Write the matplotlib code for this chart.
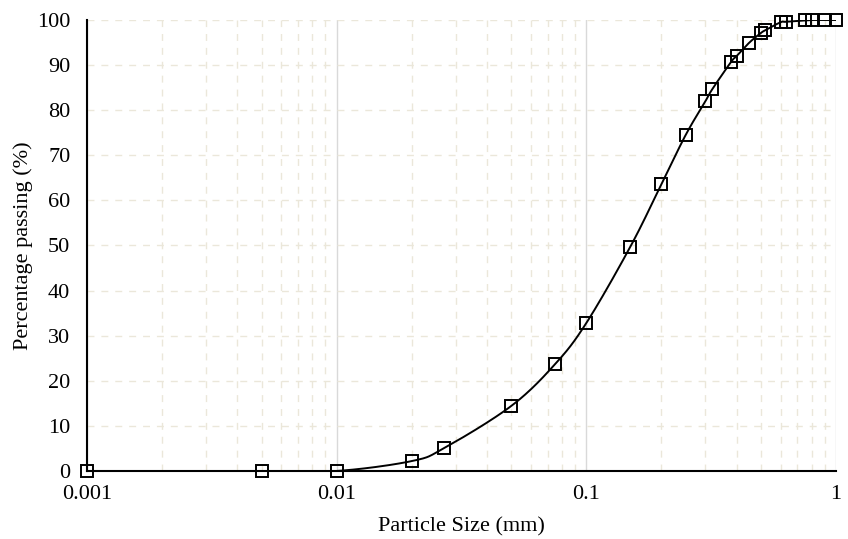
import numpy as np
import matplotlib.pyplot as plt
from matplotlib.ticker import FixedLocator, NullFormatter

# grain size distribution
size_mm = [0.001, 0.005, 0.01, 0.02, 0.027, 0.05, 0.075, 0.1, 0.15, 0.2, 0.25,
           0.3, 0.32, 0.38, 0.4, 0.45, 0.5, 0.52, 0.6, 0.63, 0.75, 0.8, 0.9, 1.0]
passing = [0.0, 0.0, 0.0, 2.2, 5.1, 14.4, 23.7, 32.8, 49.7, 63.6, 74.5,
           82.0, 84.7, 90.7, 92.0, 95.0, 97.1, 97.7, 99.5, 99.6, 99.9, 100.0, 100.0, 100.0]

x_ticks = [0.001, 0.01, 0.1, 1]
x_tick_labels = ["0.001", "0.01", "0.1", "1"]


def smooth_curve(x, y, n=30):
    """Bezier smoothing (like a spreadsheet 'smoothed line') in log-x space."""
    u = np.log10(np.asarray(x)) * 250.0
    v = np.asarray(y) * 4.5
    P = np.column_stack([u, v])
    P = np.vstack([P[0], P, P[-1]])
    out = []
    t = np.linspace(0, 1, n)[:, None]
    for i in range(1, len(P) - 2):
        p0, p3 = P[i], P[i + 1]
        c1 = p0 + (P[i + 1] - P[i - 1]) / 6.0
        c2 = p3 - (P[i + 2] - P[i]) / 6.0
        seg = ((1 - t) ** 3) * p0 + 3 * ((1 - t) ** 2) * t * c1 + 3 * (1 - t) * t ** 2 * c2 + t ** 3 * p3
        out.append(seg)
    out = np.vstack(out)
    return 10 ** (out[:, 0] / 250.0), out[:, 1] / 4.5


plt.rcParams['font.family'] = ['Liberation Serif', 'DejaVu Serif']

fig = plt.figure(figsize=(8.48, 5.39), dpi=100)
ax = fig.add_axes([0.1026, 0.1262, 0.8832, 0.8367])

sx, sy = smooth_curve(size_mm, passing)
ax.plot(sx, sy, color='black', lw=1.4, zorder=3)
ax.plot(size_mm, passing, ls='none', marker='s', ms=9, mfc='none',
        mec='black', mew=1.4, zorder=4, clip_on=False)

ax.set_xscale('log')
ax.set_xlim(0.001, 1)
ax.set_ylim(0, 100)
ax.set_yticks(np.arange(0, 101, 10))
ax.xaxis.set_major_locator(FixedLocator(x_ticks))
ax.set_xticklabels(x_tick_labels)
minor = [m * 10.0 ** k for k in (-3, -2, -1) for m in range(2, 10)]
ax.xaxis.set_minor_locator(FixedLocator(minor))
ax.xaxis.set_minor_formatter(NullFormatter())

ax.grid(True, which='major', axis='x', color='#d9d9d9', lw=1.0, ls='-')
ax.grid(True, which='minor', axis='x', color='#ebe7da', lw=1.0, ls=(0, (5, 5)))
ax.grid(True, which='major', axis='y', color='#ebe7da', lw=1.0, ls=(0, (5, 5)))
ax.set_axisbelow(True)

for s in ('top', 'right'):
    ax.spines[s].set_visible(False)
for s in ('left', 'bottom'):
    ax.spines[s].set_linewidth(1.5)
    ax.spines[s].set_color('black')

ax.tick_params(which='both', length=0, labelsize=16)
ax.tick_params(axis='y', pad=12)
ax.tick_params(axis='x', pad=10)
ax.set_xlabel('Particle Size (mm)', fontsize=16, va='center')
ax.set_ylabel('Percentage passing (%)', fontsize=16, va='center')
ax.xaxis.set_label_coords(0.5, -0.125)
ax.yaxis.set_label_coords(-0.085, 0.5)

fig.savefig('out.png', dpi=100)
